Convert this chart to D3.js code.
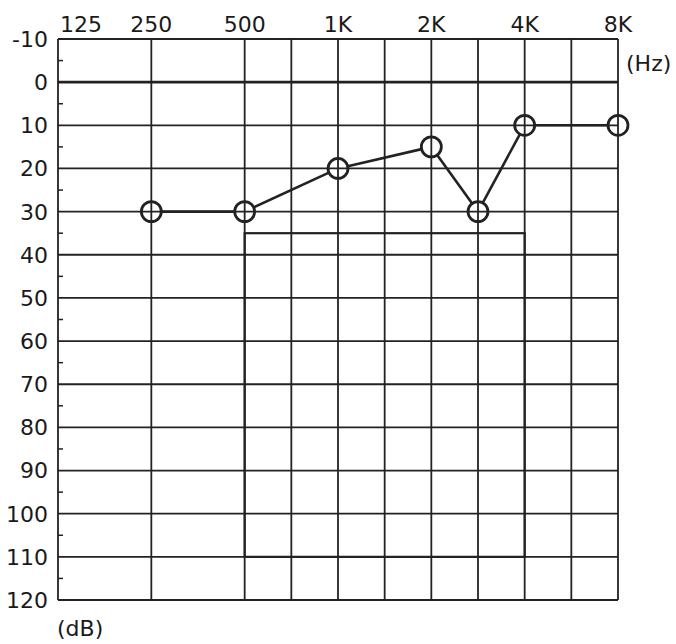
<!DOCTYPE html>
<html>
<head>
<meta charset="utf-8">
<script src="https://cdn.jsdelivr.net/npm/d3@7"></script>
<style>
  html, body { margin: 0; padding: 0; background: #fff; }
  svg { display: block; }
  text { font-family: "DejaVu Sans", Verdana, sans-serif; fill: #1a1a1a; }
</style>
</head>
<body>
<div id="chart"></div>
<script>
// ---- data ----
const octaveFreqs = [125, 250, 500, 1000, 2000, 4000, 8000];
const octaveLabels = ["125", "250", "500", "1K", "2K", "4K", "8K"];
const halfOctaveFreqs = [750, 1500, 3000, 6000];
const dbTicks = [-10, 0, 10, 20, 30, 40, 50, 60, 70, 80, 90, 100, 110, 120];
const dbMinorTicks = [-5, 5, 15, 25, 35, 45, 55, 65, 75, 85, 95, 105, 115];
const thresholdFreqs = [250, 500, 1000, 2000, 3000, 4000, 8000];
const thresholdDb = [30, 30, 20, 15, 30, 10, 10];
const boxFreqs = [500, 4000];
const boxDb = [35, 110];

// ---- layout ----
const W = 676, H = 644;
const margin = { left: 58, top: 39, right: 58, bottom: 44 };
const innerW = W - margin.left - margin.right;
const innerH = H - margin.top - margin.bottom;
const FS = 22;

const svg = d3.select("#chart").append("svg")
  .attr("width", W).attr("height", H);
const g = svg.append("g").attr("transform", `translate(${margin.left},${margin.top})`);

// audiogram position: octaves from 125 Hz, rounded to half octaves
const pos = f => Math.round(Math.log2(f / 125) * 2) / 2;
const x = d3.scaleLinear().domain([0, 6]).range([0, innerW]);
const X = f => x(pos(f));
const y = d3.scaleLinear().domain([-10, 120]).range([0, innerH]);

const ink = "#222";

// horizontal grid
g.selectAll("line.h").data(dbTicks).join("line")
  .attr("x1", 0).attr("x2", innerW)
  .attr("y1", d => y(d)).attr("y2", d => y(d))
  .attr("stroke", ink).attr("stroke-width", d => d === 0 ? 2.6 : 1.8);

// vertical grid (octaves + half octaves)
g.selectAll("line.v").data(octaveFreqs.concat(halfOctaveFreqs)).join("line")
  .attr("x1", d => X(d)).attr("x2", d => X(d))
  .attr("y1", 0).attr("y2", innerH)
  .attr("stroke", ink).attr("stroke-width", 1.8);

// minor ticks on left edge
g.selectAll("line.m").data(dbMinorTicks).join("line")
  .attr("x1", 0).attr("x2", 5)
  .attr("y1", d => y(d)).attr("y2", d => y(d))
  .attr("stroke", ink).attr("stroke-width", 1.5);

// box (500 Hz - 4 kHz, 35 - 110 dB)
g.append("rect")
  .attr("x", X(boxFreqs[0])).attr("y", y(boxDb[0]))
  .attr("width", X(boxFreqs[1]) - X(boxFreqs[0]))
  .attr("height", y(boxDb[1]) - y(boxDb[0]))
  .attr("fill", "none").attr("stroke", ink).attr("stroke-width", 2.2);

// threshold line (trimmed to circle edges)
const r = 10;
const pts = thresholdFreqs.map((f, i) => [X(f), y(thresholdDb[i])]);
const segs = [];
for (let i = 0; i < pts.length - 1; i++) {
  const [x1, y1] = pts[i], [x2, y2] = pts[i + 1];
  const L = Math.hypot(x2 - x1, y2 - y1);
  const ux = (x2 - x1) / L, uy = (y2 - y1) / L;
  segs.push([x1 + ux * r, y1 + uy * r, x2 - ux * r, y2 - uy * r]);
}
g.selectAll("line.s").data(segs).join("line")
  .attr("x1", d => d[0]).attr("y1", d => d[1])
  .attr("x2", d => d[2]).attr("y2", d => d[3])
  .attr("stroke", ink).attr("stroke-width", 2.6);

g.selectAll("circle").data(pts).join("circle")
  .attr("cx", d => d[0]).attr("cy", d => d[1]).attr("r", r)
  .attr("fill", "none").attr("stroke", ink).attr("stroke-width", 2.8);

// top frequency labels
g.selectAll("text.f").data(octaveFreqs).join("text")
  .attr("x", (d, i) => i === 0 ? X(d) + 2 : X(d))
  .attr("y", -7)
  .attr("text-anchor", (d, i) => i === 0 ? "start" : "middle")
  .attr("font-size", FS)
  .text((d, i) => octaveLabels[i]);

// left dB labels
g.selectAll("text.d").data(dbTicks).join("text")
  .attr("x", -10).attr("y", d => y(d))
  .attr("dy", "0.36em")
  .attr("text-anchor", "end")
  .attr("font-size", FS)
  .text(d => d);

// unit labels
g.append("text").attr("x", innerW + 8).attr("y", 32)
  .attr("font-size", FS).text("(Hz)");
g.append("text").attr("x", -1).attr("y", innerH + 36)
  .attr("font-size", FS).text("(dB)");
</script>
</body>
</html>
